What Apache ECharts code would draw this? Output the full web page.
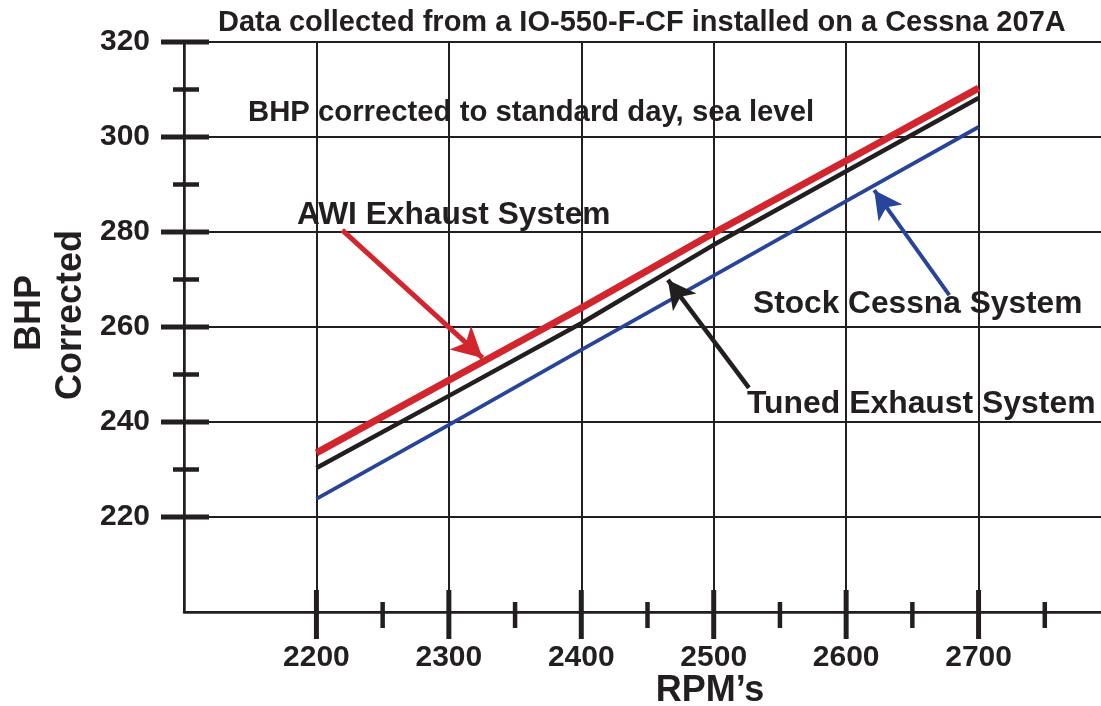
<!DOCTYPE html>
<html>
<head>
<meta charset="utf-8">
<script src="https://cdn.jsdelivr.net/npm/echarts@6/dist/echarts.min.js"></script>
<style>html,body{margin:0;padding:0;background:#fff}#c{width:1101px;height:706px}</style>
</head>
<body>
<div id="c"></div>
<script>
// ---- data ----
const rpm = [2200, 2300, 2400, 2500, 2600, 2700];
const awi = [233.5, 248.8, 264.0, 279.8, 295.0, 310.3];
const tuned = [230.3, 245.5, 260.8, 277.3, 292.8, 308.2];
const stock = [223.8, 239.4, 255.2, 270.8, 286.5, 302.1];
const xMajorTicks = [2200, 2300, 2400, 2500, 2600, 2700];
const xMinorTicks = [2250, 2350, 2450, 2550, 2650, 2750];
const yMajorTicks = [220, 240, 260, 280, 300, 320];
const yMinorTicks = [230, 250, 270, 290, 310];
// arrows: [tail, tip] in data units
const awiArrow = [[2219.5, 280.4], [2325.4, 253.5]];
const tunedArrow = [[2526.6, 247.2], [2465.4, 269.9]];
const stockArrow = [[2677.9, 266.7], [2621.2, 288.8]];

const INK = '#231f20';
const RED = '#d3252d';
const BLUE = '#27449a';
const FONT = '"Liberation Sans", Arial, sans-serif';

const chart = echarts.init(document.getElementById('c'), null, {renderer: 'canvas'});

function pairs(xs, ys) { return xs.map((x, i) => [x, ys[i]]); }

function arrow(pts, color, width, size) {
  return {
    silent: true,
    symbol: ['none', 'arrow'],
    symbolSize: size,
    label: {show: false},
    lineStyle: {color: color, width: width, type: 'solid', opacity: 1},
    data: [[{coord: pts[0]}, {coord: pts[1]}]]
  };
}

function tickSeries(data, size, offset) {
  return {type: 'scatter', clip: false, silent: true, symbol: 'rect', symbolSize: size, symbolOffset: offset,
    itemStyle: {color: INK, opacity: 1}, data: data, z: 5};
}

const option = {
  animation: false,
  backgroundColor: '#fff',
  grid: {left: 184, top: 42, width: 927, height: 570, containLabel: false, outerBoundsMode: 'none'},
  xAxis: {
    type: 'value', min: 2100, max: 2800, interval: 100,
    axisLine: {show: true, lineStyle: {color: INK, width: 2.5}},
    axisTick: {show: false},
    splitLine: {show: true, lineStyle: {color: INK, width: 2}},
    axisLabel: {
      margin: 31, color: INK, fontSize: 30, fontWeight: 'bold', fontFamily: FONT,
      formatter: v => (xMajorTicks.indexOf(v) >= 0 ? String(v) : '')
    }
  },
  yAxis: {
    type: 'value', min: 200, max: 320, interval: 20,
    axisLine: {show: true, lineStyle: {color: INK, width: 2.5}},
    axisTick: {show: false},
    splitLine: {show: true, lineStyle: {color: INK, width: 2}},
    axisLabel: {
      margin: 34, color: INK, fontSize: 30, fontWeight: 'bold', fontFamily: FONT,
      formatter: v => (yMajorTicks.indexOf(v) >= 0 ? String(v) : '')
    }
  },
  series: [
    tickSeries(xMajorTicks.map(v => [v, 200]), [5, 49], [0, 2.5]),
    tickSeries(xMinorTicks.map(v => [v, 200]), [4.5, 26], [0, 3]),
    tickSeries(yMajorTicks.map(v => [2100, v]), [48, 5], [1, 0]),
    tickSeries(yMinorTicks.map(v => [2100, v]), [26, 4.5], [2, 0]),
    {name: 'Stock Cessna System', type: 'line', data: pairs(rpm, stock), showSymbol: false, symbol: 'none',
     lineStyle: {color: BLUE, width: 3.8}, z: 3,
     markLine: arrow(stockArrow, BLUE, 4, [22, 28])},
    {name: 'Tuned Exhaust System', type: 'line', data: pairs(rpm, tuned), showSymbol: false, symbol: 'none',
     lineStyle: {color: INK, width: 4.5}, z: 3,
     markLine: arrow(tunedArrow, INK, 4.5, [22, 28])},
    {name: 'AWI Exhaust System', type: 'line', data: pairs(rpm, awi), showSymbol: false, symbol: 'none',
     lineStyle: {color: RED, width: 7}, z: 4,
     markLine: arrow(awiArrow, RED, 5, [24, 30])}
  ],
  graphic: [
    {type: 'text', x: 218, y: 23, z: 10, style: {text: 'Data collected from a IO-550-F-CF installed on a Cessna 207A',
      font: 'bold 29px ' + FONT, fill: INK, textAlign: 'left', textVerticalAlign: 'middle'}},
    {type: 'text', x: 248, y: 113, z: 10, style: {text: 'BHP corrected to standard day, sea level',
      font: 'bold 29.3px ' + FONT, fill: INK, textAlign: 'left', textVerticalAlign: 'middle'}},
    {type: 'text', x: 297, y: 215, z: 10, style: {text: 'AWI Exhaust System',
      font: 'bold 31.7px ' + FONT, fill: INK, textAlign: 'left', textVerticalAlign: 'middle'}},
    {type: 'text', x: 753, y: 304, z: 10, style: {text: 'Stock Cessna System',
      font: 'bold 31.7px ' + FONT, fill: INK, textAlign: 'left', textVerticalAlign: 'middle'}},
    {type: 'text', x: 747, y: 404, z: 10, style: {text: 'Tuned Exhaust System',
      font: 'bold 31.9px ' + FONT, fill: INK, textAlign: 'left', textVerticalAlign: 'middle'}},
    {type: 'text', x: 30, y: 313, rotation: Math.PI / 2, z: 10, style: {text: 'BHP',
      font: 'bold 36px ' + FONT, fill: INK, textAlign: 'center', textVerticalAlign: 'middle'}},
    {type: 'text', x: 71, y: 315, rotation: Math.PI / 2, z: 10, style: {text: 'Corrected',
      font: 'bold 36px ' + FONT, fill: INK, textAlign: 'center', textVerticalAlign: 'middle'}},
    {type: 'text', x: 710, y: 691, z: 10, style: {text: 'RPM\u2019s',
      font: 'bold 36px ' + FONT, fill: INK, textAlign: 'center', textVerticalAlign: 'middle'}}
  ]
};
chart.setOption(option);
</script>
</body>
</html>
